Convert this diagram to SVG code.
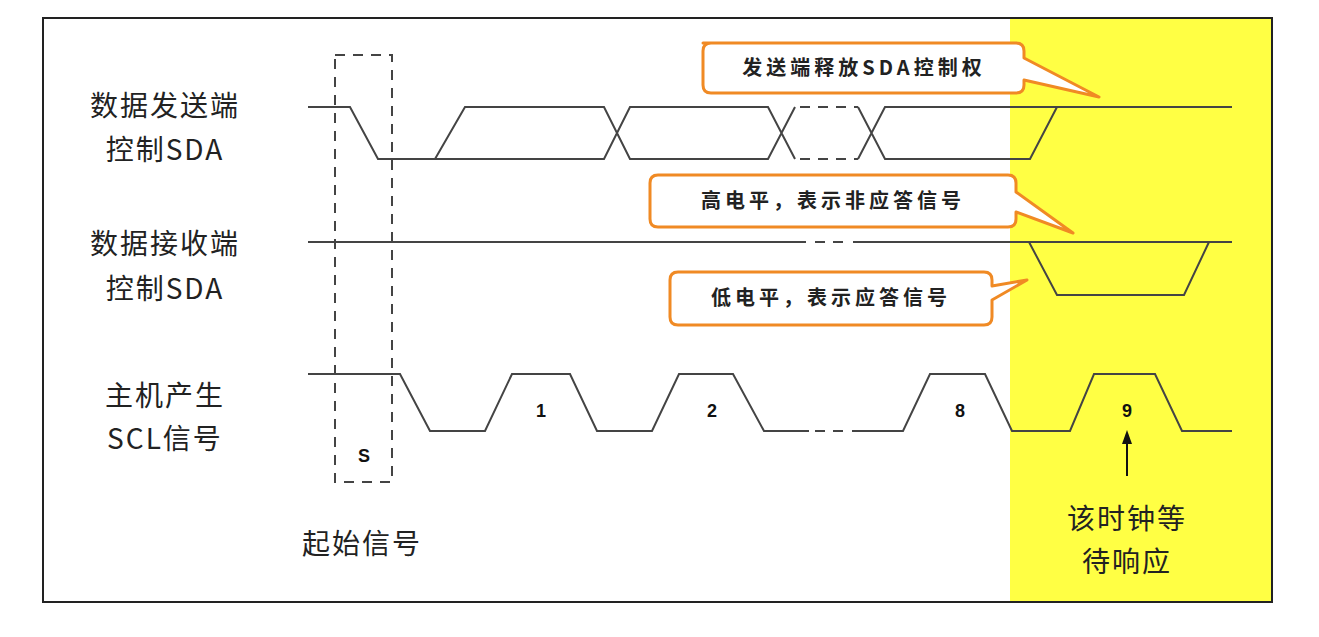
<svg xmlns="http://www.w3.org/2000/svg" width="1319" height="637" viewBox="0 0 1319 637">
<style>
.w{fill:none;stroke:#444;stroke-width:2}
.d{fill:none;stroke:#444;stroke-width:2;stroke-dasharray:10 8}
.lb{font-family:"Noto Sans CJK SC","Liberation Serif",serif;font-size:28px;fill:#222;text-anchor:middle;letter-spacing:2px}
.co{fill:#fff;stroke:#f08a24;stroke-width:3;stroke-linejoin:round}
.ct{font-family:"Noto Sans CJK SC","Liberation Sans",sans-serif;font-size:20px;font-weight:bold;fill:#222;text-anchor:middle;letter-spacing:4px}
.n{font-family:"Liberation Sans",Arial,sans-serif;font-size:18px;font-weight:bold;fill:#111;text-anchor:middle}
</style>
<rect x="0" y="0" width="1319" height="637" fill="#fff"/>
<rect x="1010" y="18" width="261" height="584" fill="#ffff44"/>
<rect x="43" y="18" width="1229" height="584" fill="none" stroke="#222" stroke-width="2"/>
<g id="labels">
<text class="lb" x="165" y="116">数据发送端</text>
<text class="lb" x="165" y="160">控制SDA</text>
<text class="lb" x="165" y="254">数据接收端</text>
<text class="lb" x="165" y="299">控制SDA</text>
<text class="lb" x="165" y="406">主机产生</text>
<text class="lb" x="165" y="449">SCL信号</text>
<text class="lb" x="362" y="554">起始信号</text>
<text class="lb" x="1127" y="529">该时钟等</text>
<text class="lb" x="1127" y="572">待响应</text>
</g>
<g id="connectors">
<path class="w" d="M308 107H350L378 159H435L465 107H604L630 159H768L795 107M435 159H604L630 107H768L795 159"/>
<path class="d" d="M800 107H858M800 159H858"/>
<path class="w" d="M858 107L885 159H1030L1057 107M858 159L885 107H1232"/>
<path class="w" d="M308 242H806M853 242H1232M1029 242L1057 295H1184L1209 242"/>
<path class="d" d="M815 242H848"/>
<path class="w" d="M308 374H400L430 431H485L512 374H570L597 431H652L679 374H733L764 431H809M852 431H903L930 374H985L1012 431H1070L1094 374H1155L1182 431H1232"/>
<path class="d" d="M815 431H848"/>
<rect class="d" x="335" y="55" width="57" height="427"/>
<path d="M1127 476V440" stroke="#111" stroke-width="2"/>
<path d="M1127 430L1122 444H1132Z" fill="#111"/>
</g>
<g id="callout1">
<path class="co" d="M703 43H1016Q1024 43 1024 51V58L1099 97L1024 80V85Q1024 93 1016 93H711Q703 93 703 85V51Q703 43 711 43Z"/>
<text class="ct" x="864" y="75">发送端释放SDA控制权</text>
</g>
<g id="callout2">
<path class="co" d="M658 175H1008Q1016 175 1016 183V192L1073 233L1016 212V219Q1016 227 1008 227H658Q650 227 650 219V183Q650 175 658 175Z"/>
<text class="ct" x="833" y="208">高电平，表示非应答信号</text>
</g>
<g id="callout3">
<path class="co" d="M678 272H984Q992 272 992 280V286L1027 280L992 300V317Q992 325 984 325H678Q670 325 670 317V280Q670 272 678 272Z"/>
<text class="ct" x="831" y="305">低电平，表示应答信号</text>
</g>
<g id="numbers">
<text class="n" x="541" y="417">1</text>
<text class="n" x="712" y="417">2</text>
<text class="n" x="960" y="417">8</text>
<text class="n" x="1127" y="417">9</text>
<text class="n" x="364" y="462">S</text>
</g>
</svg>
